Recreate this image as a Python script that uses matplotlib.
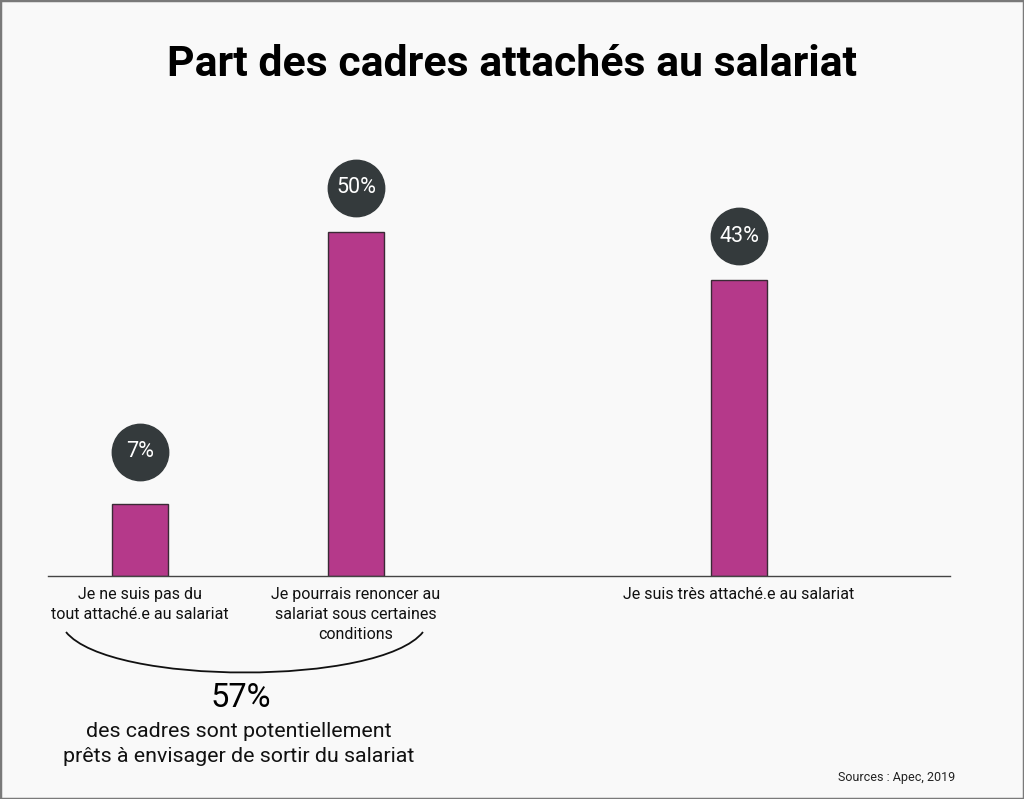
import matplotlib.pyplot as plt
from matplotlib.path import Path
from matplotlib.patches import PathPatch, Rectangle

# data
categories = ["Je ne suis pas du\ntout attaché.e au salariat",
              "Je pourrais renoncer au\nsalariat sous certaines\nconditions",
              "Je suis très attaché.e au salariat"]
pct_labels = ["7%", "50%", "43%"]
bar_heights = [10.5, 50, 43]      # heights as drawn in the picture
positions = [1, 2, 3.773]
title = "Part des cadres attachés au salariat"
summary_value = "57%"
summary_text = "des cadres sont potentiellement\nprêts à envisager de sortir du salariat"
source = "Sources : Apec, 2019"

W, H = 1024, 799
PX = 6.88  # pixels per percent
plt.rcParams['font.family'] = ['Roboto', 'DejaVu Sans']

fig = plt.figure(figsize=(W / 100, H / 100), dpi=100)
fig.patch.set_facecolor("#f9f9f9")

def fx(px):
    return px / W

def fy(py):
    return 1 - py / H

# axes: x 48..950, baseline at y=576, top at y=96
ax = fig.add_axes([fx(48), fy(576), fx(950 - 48), (576 - 96) / H])
ax.set_facecolor("none")
ax.set_xlim(0.574, 4.75)
ax.set_ylim(0, (576 - 96) / PX)
for s in ["top", "right", "left"]:
    ax.spines[s].set_visible(False)
ax.spines["bottom"].set_color("#444444")
ax.spines["bottom"].set_linewidth(1)
ax.set_yticks([])

ax.bar(positions, bar_heights, width=0.26, color="#b5398a",
       edgecolor="#3a2a35", linewidth=1, zorder=2)

ax.set_xticks(positions)
ax.set_xticklabels(categories, fontsize=11.5, color="#111111", linespacing=1.42)
ax.tick_params(axis="x", length=0, pad=8)

# value bubbles above bars (gap in pixels between bar top and bubble centre)
gaps = [52, 44, 44]
for x, h, lab, g in zip(positions, bar_heights, pct_labels, gaps):
    yc = h + g / PX
    ax.scatter([x], [yc], s=1650, color="#343a3c", zorder=3, clip_on=False)
    ax.text(x, yc, lab, ha="center", va="center", color="white",
            fontsize=15.5, zorder=4)

# title
fig.text(0.5, fy(65), title, ha="center", va="center", fontsize=30.8,
         fontweight="bold", color="#000000")

# brace under the first two categories
verts = [(fx(66), fy(632)), (fx(110), fy(686)), (fx(380), fy(686)), (fx(423), fy(632))]
brace = PathPatch(Path(verts, [Path.MOVETO, Path.CURVE4, Path.CURVE4, Path.CURVE4]),
                  transform=fig.transFigure, facecolor="none",
                  edgecolor="#111111", linewidth=1.3)
fig.add_artist(brace)

fig.text(fx(241), fy(698), summary_value, ha="center", va="center",
         fontsize=23.5, color="#000000")
fig.text(fx(239), fy(744), summary_text, ha="center", va="center",
         fontsize=15.4, color="#111111", linespacing=1.45)

fig.text(fx(955), fy(778), source, ha="right", va="center",
         fontsize=9, color="#222222")

# outer frame
fig.add_artist(Rectangle((0, 0), 1, 1, transform=fig.transFigure,
                         facecolor="none", edgecolor="#7a7a7a", linewidth=2.5))

fig.savefig("out.png", dpi=100, facecolor=fig.get_facecolor())
